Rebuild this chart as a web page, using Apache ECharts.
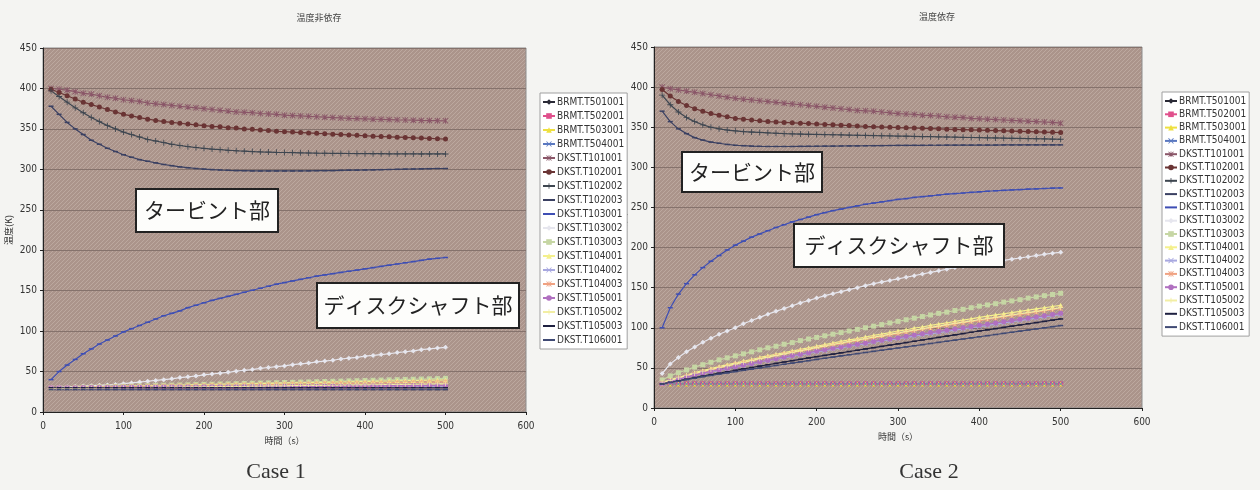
<!DOCTYPE html>
<html>
<head>
<meta charset="utf-8">
<script src="https://cdn.jsdelivr.net/npm/echarts@6/dist/echarts.min.js"></script>
<style>
  html, body { margin: 0; padding: 0; background: #f4f4f2; }
  #chart { width: 1260px; height: 490px; }
</style>
</head>
<body>
<div id="chart"></div>
<script>
// 時間軸 (s)
const times = [10,20,30,40,50,60,70,80,90,100,110,120,130,140,150,160,170,180,190,200,
  210,220,230,240,250,260,270,280,290,300,310,320,330,340,350,360,370,380,390,400,
  410,420,430,440,450,460,470,480,490,500];

const seriesNames = ['BRMT.T501001','BRMT.T502001','BRMT.T503001','BRMT.T504001',
  'DKST.T101001','DKST.T102001','DKST.T102002','DKST.T102003','DKST.T103001',
  'DKST.T103002','DKST.T103003','DKST.T104001','DKST.T104002','DKST.T104003',
  'DKST.T105001','DKST.T105002','DKST.T105003','DKST.T106001'];

const yTicks = [0, 450, 50];
const xTicks = [0, 600, 100];

// ---- 共通 ----
const flat30 = [30,30,30,30,30,30,30,30,30,30, 30,30,30,30,30,30,30,30,30,30,
  30,30,30,30,30,30,30,30,30,30, 30,30,30,30,30,30,30,30,30,30, 30,30,30,30,30,30,30,30,30,30];

// ---- Case 1 温度非依存 ----
const c1_T101001 = [400,399,398,396,394,393,391,389,388,386, 385,384,382,381,380,379,378,377,376,375,
  374,373,372,371,370.5,370,369,368.5,368,367, 366.5,366,365.5,365,364.5,364,363.5,363,362.8,362.5,
  362,361.8,361.5,361.2,361,360.8,360.5,360.3,360.1,360];
const c1_T102001 = [399,395,391,387,383,380,377,374,371,368, 366,364,362,360.5,359,358,357,356,355,354,
  353,352.5,351.5,351,350,349.5,348.5,348,347,346.5, 346,345.5,345,344.5,344,343.5,343,342.5,342,341.5,
  341,340.6,340.2,339.8,339.4,339,338.6,338.2,337.8,337.4];
const c1_T102002 = [397,390,383,376,370,364,359,354,350,346, 343,340,337,335,333,331,329.5,328,327,326,
  325,324.3,323.6,323,322.5,322,321.6,321.3,321,320.8, 320.6,320.4,320.2,320,319.9,319.8,319.7,319.6,319.5,319.4,
  319.3,319.3,319.2,319.2,319.1,319.1,319,319,319,319];
const c1_T102003 = [378,368,358,350,343,336,331,326,322,318, 315,312,310,308,306,304.5,303,302,301,300.3,
  299.7,299.2,298.8,298.5,298.3,298.1,298,298,298,298, 298,298.1,298.2,298.3,298.4,298.5,298.7,298.9,299,299.2,
  299.4,299.6,299.8,300,300.2,300.4,300.6,300.8,301,301];
const c1_T103001 = [40,50,58,65,72,78,84,89,94,99, 103,107,111,115,119,122,125,129,132,135,
  138,140.5,143,145.5,148,150.5,153,155.5,158,160, 162,164,166,168,169.5,171,172.5,174,175.5,177,
  178.5,180,181.5,183,184.5,186,187.5,189,190,191];
const c1_T103002 = [30,30.5,31,31.5,32,32.5,33,33.5,34,35, 36,37,38,39,40,41,42.5,43.5,44.5,46,
  47,48,49,50.5,51.5,52.5,54,55,56,57, 58.5,59.5,60.5,62,63,64,65.5,66.5,67.5,69,
  70,71,72,73.5,74.5,75.5,77,78,79,80];
const c1_T103003 = [30,30.2,30.4,30.6,30.8,31,31.2,31.4,31.6,31.8, 32,32.3,32.5,32.7,33,33.2,33.4,33.6,33.9,34.1,
  34.3,34.6,34.8,35,35.3,35.5,35.8,36,36.2,36.5, 36.7,37,37.2,37.5,37.7,38,38.2,38.5,38.7,39,
  39.2,39.5,39.8,40,40.3,40.5,40.8,41,41.3,41.6];
const c1_T104001 = [30,30.2,30.3,30.5,30.7,30.9,31.1,31.3,31.5,31.7, 31.9,32.1,32.3,32.5,32.7,32.9,33.1,33.3,33.5,33.7,
  33.9,34.1,34.3,34.5,34.7,34.9,35.1,35.3,35.5,35.7, 35.9,36.1,36.3,36.5,36.7,36.9,37.1,37.3,37.5,37.7,
  37.9,38.1,38.3,38.5,38.7,38.9,39.1,39.3,39.5,39.7];
const c1_T104002 = [30,30,30,30,30.1,30.1,30.1,30.1,30.2,30.2, 30.2,30.2,30.3,30.3,30.3,30.3,30.4,30.4,30.4,30.4,
  30.5,30.5,30.5,30.5,30.6,30.6,30.6,30.6,30.7,30.7, 30.7,30.7,30.8,30.8,30.8,30.8,30.9,30.9,30.9,30.9,
  31,31,31,31,31.1,31.1,31.1,31.1,31.2,31.2];
const c1_T104003 = [30,30.1,30.3,30.4,30.6,30.7,30.9,31,31.2,31.3, 31.5,31.6,31.8,31.9,32.1,32.2,32.4,32.5,32.7,32.8,
  33,33.1,33.3,33.4,33.6,33.7,33.9,34,34.2,34.3, 34.5,34.6,34.8,34.9,35.1,35.2,35.4,35.5,35.7,35.8,
  36,36.1,36.3,36.4,36.6,36.7,36.9,37,37.2,37.3];
const c1_T105001 = [30,30,30.1,30.1,30.2,30.3,30.3,30.4,30.4,30.5, 30.6,30.6,30.7,30.7,30.8,30.9,30.9,31,31,31.1,
  31.2,31.2,31.3,31.3,31.4,31.5,31.5,31.6,31.6,31.7, 31.8,31.8,31.9,31.9,32,32.1,32.1,32.2,32.2,32.3,
  32.4,32.4,32.5,32.5,32.6,32.7,32.7,32.8,32.8,32.9];
const c1_T105002 = [29,29.1,29.2,29.3,29.4,29.5,29.7,29.8,29.9,30, 30.1,30.2,30.4,30.5,30.6,30.7,30.8,31,31.1,31.2,
  31.3,31.4,31.6,31.7,31.8,31.9,32,32.2,32.3,32.4, 32.5,32.6,32.8,32.9,33,33.1,33.2,33.4,33.5,33.6,
  33.7,33.8,34,34.1,34.2,34.3,34.4,34.6,34.7,34.8];
const c1_T106001 = [27.5,27.5,27.5,27.5,27.5,27.5,27.5,27.5,27.5,27.5, 27.5,27.5,27.5,27.5,27.5,27.5,27.5,27.5,27.5,27.5,
  27.5,27.5,27.5,27.5,27.5,27.5,27.5,27.5,27.5,27.5, 27.5,27.5,27.5,27.5,27.5,27.5,27.5,27.5,27.5,27.5,
  27.5,27.5,27.5,27.5,27.5,27.5,27.5,27.5,27.5,27.5];

// ---- Case 2 温度依存 ----
const c2_T101001 = [400,398,396.5,395,393.5,392,390.5,389,387.5,386, 385,384,383,382,381,380,379,378,377,376,
  375,374,373,372,371,370.5,370,369,368,367, 366.5,366,365,364.5,364,363,362.5,362,361,360.5,
  360,359.5,359,358.5,358,357.5,357,356.5,356,355];
const c2_T102001 = [397,389,382,377,373,370,367,365,363,361, 360,359,358,357,356.5,356,355.5,355,354.5,354,
  353.5,353,352.5,352,351.5,351,350.7,350.3,350,349.6, 349.3,349,348.6,348.3,348,347.6,347.3,347,346.7,346.4,
  346.1,345.8,345.5,345.2,344.9,344.6,344.3,344,343.7,343.4];
const c2_T102002 = [390,378,369,362,357,353,350,348,346.5,345.5, 344.5,344,343.5,343,342.5,342,341.8,341.5,341.2,341,
  340.8,340.6,340.4,340.2,340,339.8,339.6,339.4,339.2,339, 338.8,338.6,338.4,338.2,338,337.8,337.6,337.4,337.2,337,
  336.8,336.6,336.4,336.2,336,335.8,335.6,335.4,335.2,335];
const c2_T102003 = [370,357,348,342,337,334,331.5,330,328.5,327.5, 327,326.5,326.2,326,326,326,326,326.1,326.2,326.3,
  326.4,326.5,326.6,326.7,326.8,326.9,327,327.1,327.2,327.3, 327.3,327.4,327.4,327.5,327.5,327.6,327.6,327.7,327.7,327.8,
  327.8,327.8,327.9,327.9,327.9,328,328,328,328,328];
const c2_T103001 = [100,125,142,155,166,175,183,190,197,203, 208,213,217,221,225,228.5,232,235,238,241,
  243.5,246,248,250,252,254,255.5,257,258.5,260, 261,262.5,263.5,264.5,265.5,266.5,267.3,268,268.8,269.5,
  270.2,270.8,271.3,271.8,272.3,272.8,273.2,273.6,274,274.3];
const c2_T103002 = [43,55,63,70,76,82,87,92,96,100, 105,109,113,117,120.5,124,127.5,131,134,137,
  140,142.5,145,147.5,150,152.5,155,157,159,161, 163,165,167,169,171,173,175,176.5,178,179.5,
  181,182.5,184,185.5,187,188.5,190,191.5,193,194];
const c2_T103003 = [35,40,44,47.5,51,54,57,60,62.5,65, 67.5,70,72.5,75,77,79.5,81.5,84,86,88,
  90,92,94,96,98,100,102,104,106,108, 110,112,114,116,118,119.5,121.5,123,125,127,
  128.5,130,132,133.5,135,137,138.5,140,141.5,143];
const c2_T104001 = [32,35,38,41,44,46.5,49,51.5,54,56, 58.5,60.5,63,65,67,69,71,73,75,77,
  79,81,83,85,86.5,88.5,90.5,92,94,96, 97.5,99.5,101,103,104.5,106,108,109.5,111,113,
  114.5,116,117.5,119,120.5,122,123.5,125,126.5,128];
const c2_T104002 = [30,33,35.5,38,40.5,43,45,47,49,51, 53,55,57,59,61,62.5,64.5,66.5,68,70,
  71.5,73.5,75,77,78.5,80,82,83.5,85,86.5, 88,89.5,91,92.5,94,95.5,97,98.5,100,101.5,
  103,104.5,106,107.5,109,110.5,112,113.5,115,116.5];
const c2_T104003 = [31,34,37,40,42.5,45,47.5,50,52,54.5, 56.5,58.5,61,63,65,67,69,71,72.5,74.5,
  76.5,78.5,80,82,84,85.5,87.5,89,91,92.5, 94.5,96,98,99.5,101,103,104.5,106,107.5,109,
  110.5,112,113.5,115,116.5,118,119.5,121,122.5,124];
const c2_T105001 = [30,33,36,38.5,41,43.5,45.5,47.5,49.5,51.5, 53.5,55.5,57.5,59.5,61.5,63.5,65.5,67,69,71,
  72.5,74.5,76,78,79.5,81,83,84.5,86,87.5, 89.5,91,92.5,94,95.5,97,98.5,100,101.5,103,
  104.5,106,107.5,109,110.5,112,113.5,115,116.5,118];
const c2_T105002 = [31,34.5,37.5,40.5,43,45.5,48,50.5,52.5,55, 57,59,61.5,63.5,65.5,67.5,69.5,71.5,73.5,75.5,
  77.5,79.5,81,83,85,86.5,88.5,90,92,93.5, 95.5,97,99,100.5,102,104,105.5,107,108.5,110,
  111.5,113,114.5,116,117.5,119,120.5,122,123.5,125];
const c2_T105003 = [30,32,34,36,38,39.8,41.6,43.4,45.2,47, 48.8,50.5,52.2,53.9,55.6,57.3,59,60.7,62.4,64,
  65.6,67.2,68.8,70.4,72,73.6,75.2,76.8,78.4,80, 81.6,83.2,84.8,86.4,88,89.6,91.2,92.8,94.4,96,
  97.5,99,100.5,102,103.5,105,106.5,108,109.5,111];
const c2_T106001 = [30,31.8,33.6,35.4,37.2,39,40.6,42.2,43.8,45.4, 47,48.5,50,51.5,53,54.5,56,57.5,59,60.5,
  62,63.5,65,66.4,67.8,69.2,70.6,72,73.4,74.8, 76.2,77.6,79,80.4,81.8,83.2,84.6,86,87.4,88.8,
  90.2,91.6,93,94.4,95.8,97.2,98.6,100,101.4,102.8];

const case1Values = [flat30, flat30, flat30, flat30, c1_T101001, c1_T102001, c1_T102002, c1_T102003,
  c1_T103001, c1_T103002, c1_T103003, c1_T104001, c1_T104002, c1_T104003, c1_T105001, c1_T105002,
  flat30, c1_T106001];
const case2Values = [flat30, flat30, flat30, flat30, c2_T101001, c2_T102001, c2_T102002, c2_T102003,
  c2_T103001, c2_T103002, c2_T103003, c2_T104001, c2_T104002, c2_T104003, c2_T105001, c2_T105002,
  c2_T105003, c2_T106001];

// マーカー形状
const SYM_X = 'path://M1,0L5,4L9,0L10,1L6,5L10,9L9,10L5,6L1,10L0,9L4,5L0,1Z';
const SYM_STAR = 'path://M1,0L5,4L9,0L10,1L6,5L10,9L9,10L5,6L1,10L0,9L4,5L0,1Z M4.3,0H5.7V10H4.3Z';
const SYM_PLUS = 'path://M4.3,0H5.7V4.3H10V5.7H5.7V10H4.3V5.7H0V4.3H4.3Z';
// 凡例用：線だけのアイコン
const ICON_LINE = 'path://M0,0H12V2H0Z';

const styles = [
  { color: '#2a2a36', symbol: 'diamond', size: 5 },
  { color: '#e0508c', symbol: 'rect', size: 5 },
  { color: '#eee040', symbol: 'triangle', size: 5 },
  { color: '#5a78c0', symbol: SYM_X, size: 5 },
  { color: '#8a5668', symbol: SYM_STAR, size: 6 },
  { color: '#6a3434', symbol: 'circle', size: 5 },
  { color: '#3e4650', symbol: SYM_PLUS, size: 6 },
  { color: '#3a4062', symbol: 'rect', size: [5, 1.5], dash: true },
  { color: '#3e4eb4', symbol: 'rect', size: [5, 1.5], dash: true },
  { color: '#e6e6ee', symbol: 'diamond', size: 5 },
  { color: '#c6d6a4', symbol: 'rect', size: 5 },
  { color: '#f4f08c', symbol: 'triangle', size: 5 },
  { color: '#a8a8e0', symbol: SYM_X, size: 5 },
  { color: '#f0a282', symbol: SYM_STAR, size: 5 },
  { color: '#b070c0', symbol: 'circle', size: 5 },
  { color: '#f2eea4', symbol: SYM_PLUS, size: 5 },
  { color: '#1e2040', symbol: 'rect', size: [5, 1.5], dash: true },
  { color: '#404a74', symbol: 'rect', size: [5, 1.5], dash: true }
];

const NARROW = "'Liberation Sans Narrow','DejaVu Sans Condensed',sans-serif";
const JP = "'Noto Sans CJK JP',sans-serif";

// プロットエリアの斜線模様
const pc = document.createElement('canvas');
pc.width = 4; pc.height = 4;
const pctx = pc.getContext('2d');
pctx.fillStyle = '#ab948b';
pctx.fillRect(0, 0, 4, 4);
pctx.fillStyle = '#bca89f';
for (let i = 0; i < 4; i++) pctx.fillRect(i, 3 - i, 1, 1);
const plotFill = { image: pc, repeat: 'repeat' };

const grids = [
  { left: 43, top: 48, width: 483, height: 364 },
  { left: 654, top: 47, width: 488, height: 361 }
];

const buildSeries = (values, gi) => seriesNames.map((name, i) => ({
  name,
  type: 'line',
  xAxisIndex: gi,
  yAxisIndex: gi,
  data: times.map((t, k) => [t, values[i][k]]),
  symbol: styles[i].symbol,
  symbolSize: styles[i].size,
  showSymbol: true,
  lineStyle: { color: styles[i].color, width: 1.2 },
  itemStyle: { color: styles[i].color, borderWidth: 0 }
}));

const axisX = (gi) => ({
  type: 'value',
  gridIndex: gi,
  min: xTicks[0], max: xTicks[1], interval: xTicks[2],
  name: '時間（s）',
  nameLocation: 'middle',
  nameGap: 24,
  nameTextStyle: { fontFamily: JP, fontSize: 9, color: '#333' },
  axisLine: { lineStyle: { color: '#222', width: 1 } },
  axisTick: { show: true, length: 3, lineStyle: { color: '#222' } },
  axisLabel: { fontFamily: NARROW, fontSize: 10, color: '#333', margin: 9 },
  splitLine: { show: false }
});

const axisY = (gi) => ({
  type: 'value',
  gridIndex: gi,
  min: yTicks[0], max: yTicks[1], interval: yTicks[2],
  name: '温度(K)',
  nameLocation: 'middle',
  nameGap: gi === 0 ? 30 : 24,
  nameTextStyle: { fontFamily: JP, fontSize: 9, color: '#333' },
  axisLine: { show: true, lineStyle: { color: '#222', width: 1 } },
  axisTick: { show: true, length: 3, lineStyle: { color: '#222' } },
  axisLabel: { fontFamily: NARROW, fontSize: 10, color: '#333', margin: 6 },
  splitLine: { show: true, lineStyle: { color: '#85726c', width: 1 } }
});

// 破線マーカーの系列は凡例では線だけにする
const legendData = seriesNames.map((name, i) =>
  styles[i].dash ? { name, icon: ICON_LINE, itemStyle: { color: styles[i].color, borderWidth: 0 } } : { name });

const legendBase = {
  data: legendData,
  orient: 'vertical',
  itemWidth: 12,
  itemHeight: 7,
  backgroundColor: '#ffffff',
  borderColor: '#a0a0a0',
  borderWidth: 1,
  selectedMode: false,
  textStyle: { fontFamily: NARROW, fontSize: 10, color: '#333', padding: [0, 0, 0, -3] }
};

const label = (x, y, w, h, text) => ({
  type: 'group',
  left: x, top: y,
  children: [
    { type: 'rect', shape: { x: 0, y: 0, width: w, height: h },
      style: { fill: '#fdfdfb', stroke: '#222', lineWidth: 2 }, z: 10 },
    { type: 'text', x: w / 2, y: h / 2,
      style: { text, fill: '#222', font: "21px 'Noto Sans CJK JP'", align: 'center', verticalAlign: 'middle' }, z: 11 }
  ]
});

const myChart = echarts.init(document.getElementById('chart'));
myChart.setOption({
  animation: false,
  backgroundColor: '#f4f4f2',
  title: [
    { text: '温度非依存', left: 314, top: 8, textAlign: 'center',
      textStyle: { fontFamily: JP, fontSize: 9, fontWeight: 'normal', color: '#444' } },
    { text: '温度依存', left: 932, top: 7, textAlign: 'center',
      textStyle: { fontFamily: JP, fontSize: 9, fontWeight: 'normal', color: '#444' } },
    { text: 'Case 1', left: 271, top: 456, textAlign: 'center',
      textStyle: { fontFamily: "'Liberation Serif',serif", fontSize: 22, fontWeight: 'normal', color: '#333' } },
    { text: 'Case 2', left: 924, top: 456, textAlign: 'center',
      textStyle: { fontFamily: "'Liberation Serif',serif", fontSize: 22, fontWeight: 'normal', color: '#333' } }
  ],
  grid: grids.map(g => ({ ...g, show: true, backgroundColor: plotFill, borderColor: '#8c8c8c', borderWidth: 1 })),
  xAxis: [axisX(0), axisX(1)],
  yAxis: [axisY(0), axisY(1)],
  legend: [
    { ...legendBase, left: 540, top: 93, itemGap: 4, padding: [4, 3, 4, 2] },
    { ...legendBase, left: 1162, top: 92, itemGap: 3.3, padding: [4, 3, 4, 2] }
  ],
  graphic: [
    label(135, 188, 142, 43, 'タービント部'),
    label(316, 282, 202, 45, 'ディスクシャフト部'),
    label(681, 151, 140, 40, 'タービント部'),
    label(793, 223, 210, 43, 'ディスクシャフト部')
  ],
  series: [...buildSeries(case1Values, 0), ...buildSeries(case2Values, 1)]
});
</script>
</body>
</html>
